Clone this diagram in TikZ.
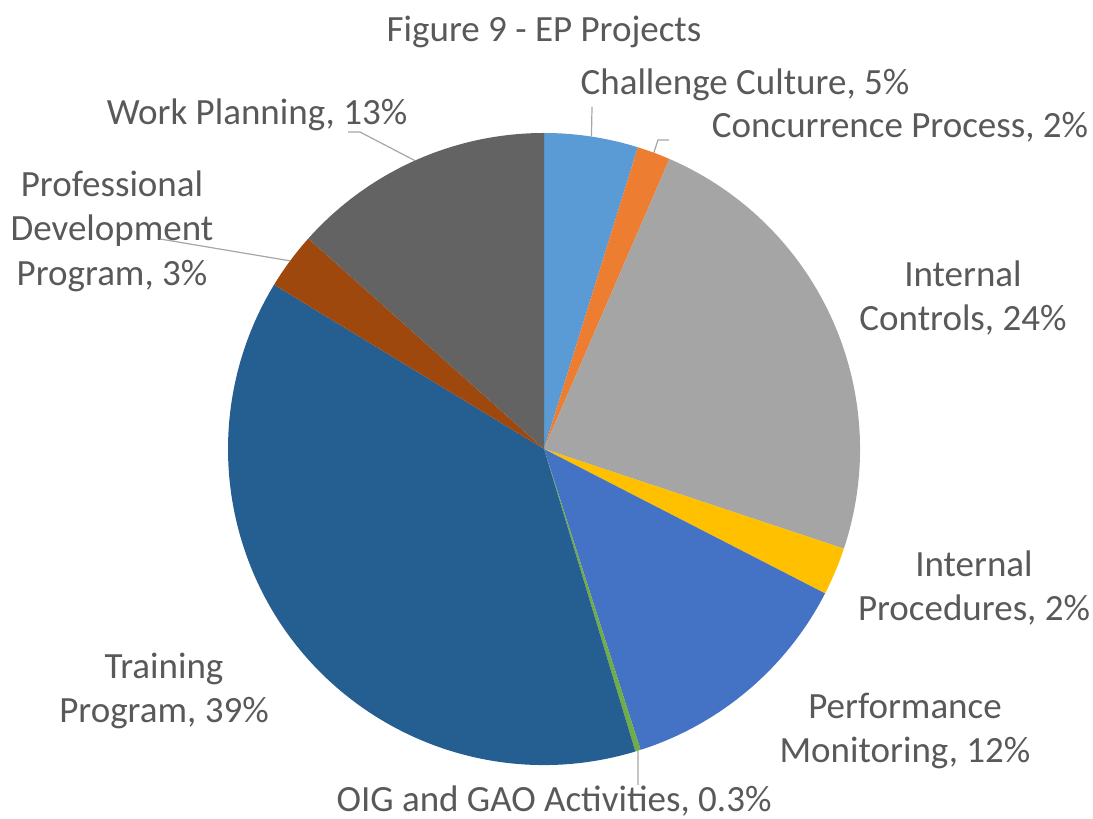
\documentclass[tikz,border=0pt]{standalone}
\usepackage{fontspec}
\setmainfont{Carlito}
\definecolor{txt}{HTML}{595959}
\definecolor{ldr}{HTML}{A6A6A6}
\definecolor{cCC}{HTML}{5B9BD5}
\definecolor{cCP}{HTML}{ED7D31}
\definecolor{cIC}{HTML}{A5A5A5}
\definecolor{cIP}{HTML}{FFC000}
\definecolor{cPM}{HTML}{4472C4}
\definecolor{cOIG}{HTML}{70AD47}
\definecolor{cTP}{HTML}{255E91}
\definecolor{cPD}{HTML}{9E480E}
\definecolor{cWP}{HTML}{636363}
\begin{document}
\begin{tikzpicture}[x=1pt,y=1pt,
  lbl/.style={font=\fontsize{37}{44.5}\selectfont, text=txt, align=center, inner sep=0pt},
  leader/.style={draw=ldr, line width=1.2pt}]
\useasboundingbox (0,0) rectangle (1093,819);
\coordinate (c) at (544,370);
% slices (clockwise from 12 o'clock)
\fill[cCC]  (c) -- ++(90:316)     arc[start angle=90,     end angle=72.72,   radius=316] -- cycle;
\fill[cCP]  (c) -- ++(72.72:316)  arc[start angle=72.72,  end angle=66.6,    radius=316] -- cycle;
\fill[cIC]  (c) -- ++(66.6:316)   arc[start angle=66.6,   end angle=-18.4,   radius=316] -- cycle;
\fill[cIP]  (c) -- ++(-18.4:316)  arc[start angle=-18.4,  end angle=-27.2,   radius=316] -- cycle;
\fill[cPM]  (c) -- ++(-27.2:316)  arc[start angle=-27.2,  end angle=-72.2,   radius=316] -- cycle;
\fill[cOIG] (c) -- ++(-72.2:316)  arc[start angle=-72.2,  end angle=-73.2,   radius=316] -- cycle;
\fill[cTP]  (c) -- ++(-73.2:316)  arc[start angle=-73.2,  end angle=-211.32, radius=316] -- cycle;
\fill[cPD]  (c) -- ++(-211.32:316) arc[start angle=-211.32, end angle=-221.76, radius=316] -- cycle;
\fill[cWP]  (c) -- ++(-221.76:316) arc[start angle=-221.76, end angle=-270,   radius=316] -- cycle;
% labels
\node[lbl] (title) at (544,787) {Figure 9 - EP Projects};
\node[lbl] (cc)  at (745,734) {Challenge Culture, 5\%};
\node[lbl] (cp)  at (900,692) {Concurrence Process, 2\%};
\node[lbl] (ic)  at (963,521) {Internal\\Controls, 24\%};
\node[lbl] (ip)  at (974,231) {Internal\\Procedures, 2\%};
\node[lbl] (pm)  at (905,88)  {Performance\\Monitoring, 12\%};
\node[lbl] (oig) at (554,18)  {OIG and GAO Activities, 0.3\%};
\node[lbl] (tp)  at (164,128) {Training\\Program, 39\%};
\node[lbl] (pd)  at (112,588) {Professional\\Development\\Program, 3\%};
\node[lbl] (wp)  at (257,704) {Work Planning, 13\%};
% leader anchor points
\path (c) ++(81.36:316) coordinate (ccS);
\path (c) ++(69.66:316) coordinate (cpS);
\path (c) ++(114.12:316) coordinate (wpS);
\path (c) ++(143.46:316) coordinate (pdS);
\path (c) ++(-72.7:316) coordinate (oigS);
\coordinate (ccE) at (592,712);
\coordinate (cpM) at (658,679);
\coordinate (cpE) at (669,679);
\coordinate (wpM) at (360,687);
\coordinate (wpE) at (348,687);
\coordinate (pdE) at (160,580);
\coordinate (oigE) at (638,34);
\draw[leader] (ccS) -- (ccE);
\draw[leader] (cpS) -- (cpM) -- (cpE);
\draw[leader] (wpS) -- (wpM) -- (wpE);
\draw[leader] (pdS) -- (pdE);
\draw[leader] (oigS) -- (oigE);
\end{tikzpicture}
\end{document}
